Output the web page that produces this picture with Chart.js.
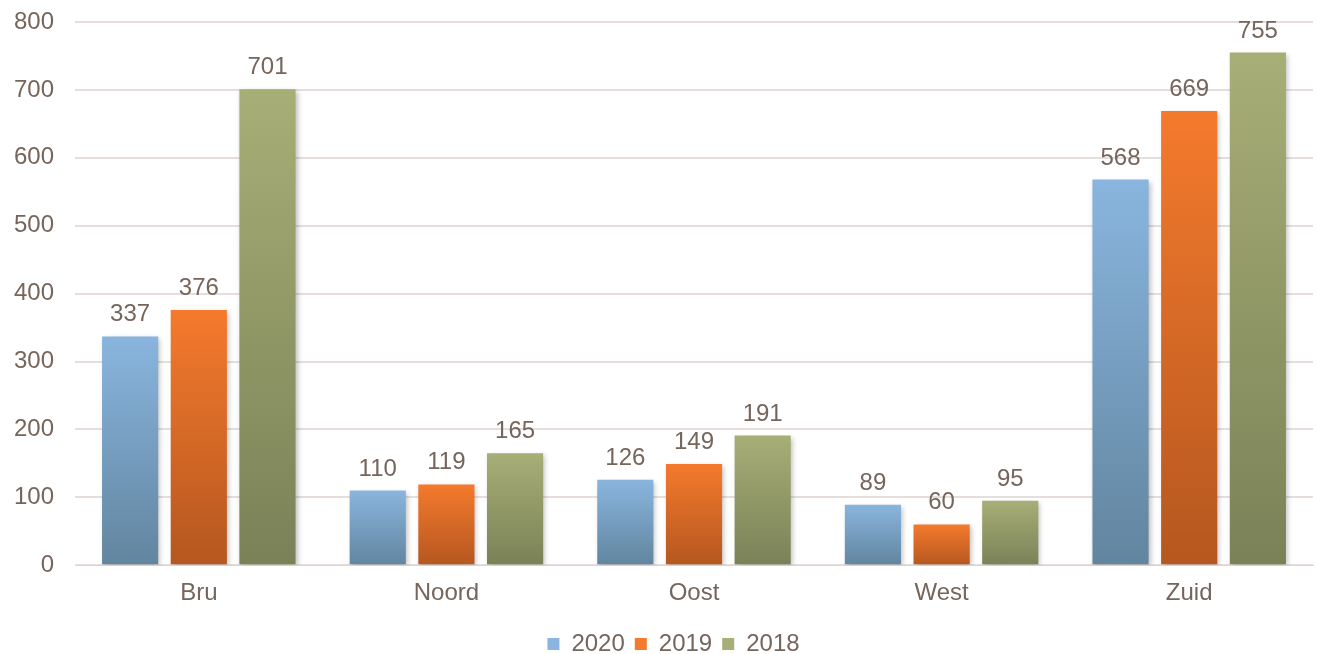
<!DOCTYPE html>
<html>
<head>
<meta charset="utf-8">
<script src="https://cdn.jsdelivr.net/npm/chart.js@4.4.0/dist/chart.umd.min.js"></script>
<style>
  html, body { margin: 0; padding: 0; background: #fff; }
  #wrap { width: 1317px; height: 654px; }
</style>
</head>
<body>
<div id="wrap"><canvas id="myChart"></canvas></div>
<script>
const regions = ["Bru", "Noord", "Oost", "West", "Zuid"];
const years = ["2020", "2019", "2018"];
const values2020 = [337, 110, 126, 89, 568];
const values2019 = [376, 119, 149, 60, 669];
const values2018 = [701, 165, 191, 95, 755];
const yTicks = [0, 100, 200, 300, 400, 500, 600, 700, 800];

const textColor = "#76655b";
const gridColor = "#e6dedb";
const fontFamily = "'Liberation Sans', Arial, sans-serif";
const fontSize = 24;

// top / bottom colour of each series gradient
const shades = [
    ["#89b5de", "#62859f"],
    ["#f47a2d", "#b5571f"],
    ["#a7ae76", "#7a8157"]
];

function barGradient(i) {
    return function(context) {
        const chart = context.chart;
        const y = chart.scales.y;
        if (!y || context.type !== "data") return shades[i][0];
        const top = y.getPixelForValue(context.raw);
        const bottom = y.getPixelForValue(0);
        if (!isFinite(top) || !isFinite(bottom) || top === bottom) return shades[i][0];
        const g = chart.ctx.createLinearGradient(0, top, 0, bottom);
        g.addColorStop(0, shades[i][0]);
        g.addColorStop(1, shades[i][1]);
        return g;
    };
}

const barShadow = {
    id: "barShadow",
    beforeDatasetsDraw(chart) {
        const ctx = chart.ctx;
        ctx.save();
        ctx.shadowColor = "rgba(0,0,0,0.25)";
        ctx.shadowBlur = 5;
        ctx.shadowOffsetX = 2;
        ctx.shadowOffsetY = 2;
    },
    afterDatasetsDraw(chart) {
        chart.ctx.restore();
    }
};

const valueLabels = {
    id: "valueLabels",
    afterDatasetsDraw(chart) {
        const ctx = chart.ctx;
        ctx.save();
        ctx.font = fontSize + "px " + fontFamily;
        ctx.fillStyle = textColor;
        ctx.textAlign = "center";
        ctx.textBaseline = "alphabetic";
        chart.data.datasets.forEach((ds, di) => {
            chart.getDatasetMeta(di).data.forEach((bar, i) => {
                ctx.fillText(ds.data[i], bar.x, bar.y - 15);
            });
        });
        ctx.restore();
    }
};

// legend sits a bit right of the canvas centre in the original
const legendShift = {
    id: "legendShift",
    afterLayout(chart) {
        if (chart.legend) {
            chart.legend.left += 17;
            chart.legend.right += 17;
        }
    }
};

const seriesData = [values2020, values2019, values2018];

let ctx = document.getElementById("myChart").getContext("2d");
let myChart = new Chart(ctx, {
    type: "bar",
    data: {
        labels: regions,
        datasets: years.map((yr, i) => ({
            label: yr,
            data: seriesData[i],
            backgroundColor: barGradient(i),
            borderWidth: 0,
            categoryPercentage: 0.832,
            barPercentage: 0.818
        }))
    },
    options: {
        responsive: true,
        maintainAspectRatio: false,
        animation: false,
        layout: { padding: { top: 0, right: 4, left: 0, bottom: -12 } },
        plugins: {
            legend: {
                position: "bottom",
                labels: {
                    color: textColor,
                    font: { size: fontSize, family: fontFamily },
                    boxWidth: 12,
                    boxHeight: 12,
                    padding: 10,
                    generateLabels(chart) {
                        return chart.data.datasets.map((ds, i) => ({
                            text: ds.label,
                            fillStyle: shades[i][0],
                            strokeStyle: shades[i][0],
                            lineWidth: 0,
                            fontColor: textColor,
                            datasetIndex: i
                        }));
                    }
                }
            },
            tooltip: { enabled: false }
        },
        scales: {
            x: {
                grid: { display: false },
                border: { color: "#ddd5d2", width: 1 },
                ticks: {
                    color: textColor,
                    font: { size: fontSize, family: fontFamily },
                    padding: 6
                },
                afterFit(axis) {
                    axis.height += 8;
                }
            },
            y: {
                min: 0,
                max: 800,
                afterBuildTicks(axis) {
                    axis.ticks = yTicks.map(v => ({ value: v }));
                },
                afterFit(axis) {
                    axis.paddingTop = 22;
                    axis.width = 75;
                },
                grid: { color: gridColor, lineWidth: 2, drawTicks: false },
                border: { display: false },
                ticks: {
                    color: textColor,
                    font: { size: fontSize, family: fontFamily },
                    padding: 21
                }
            }
        }
    },
    plugins: [barShadow, valueLabels, legendShift]
});
</script>
</body>
</html>
